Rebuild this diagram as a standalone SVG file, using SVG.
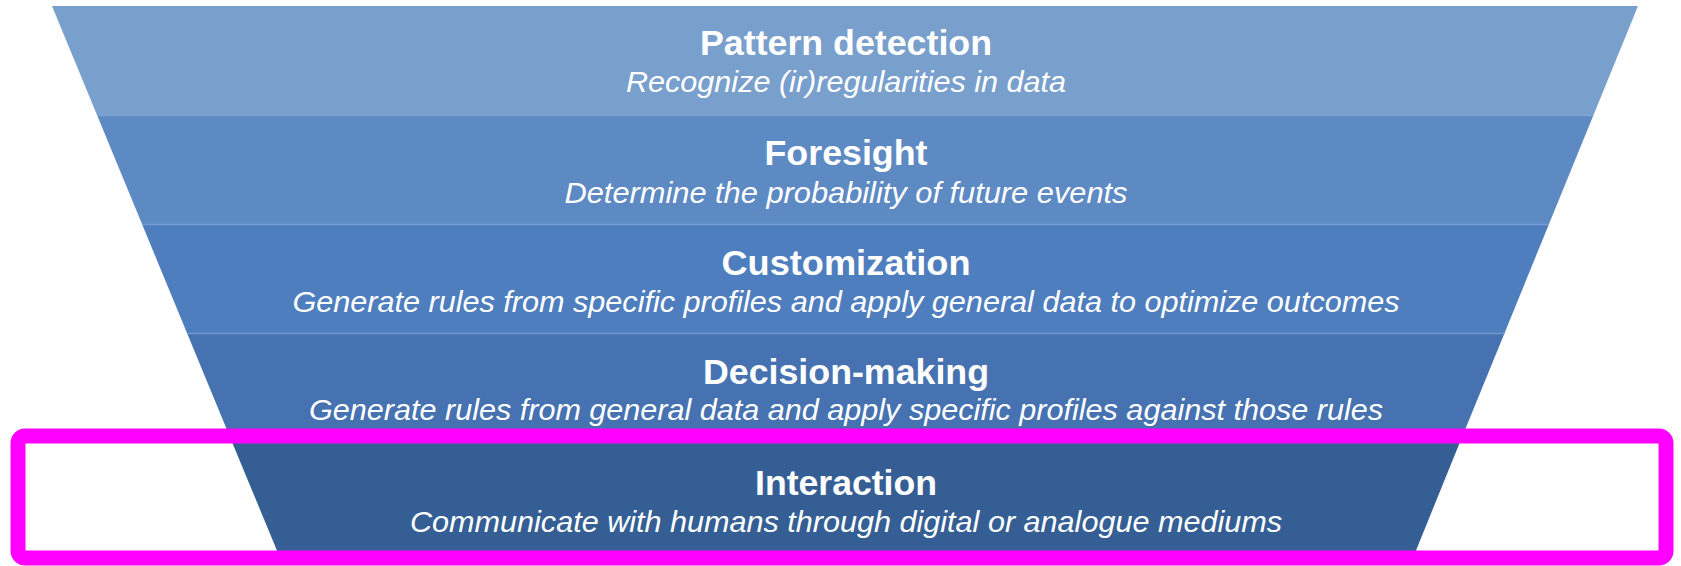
<svg xmlns="http://www.w3.org/2000/svg" width="1681" height="566" viewBox="0 0 1681 566">
  <style>
    .title { font-family: "Liberation Sans", Arial, sans-serif; font-weight: bold; font-size: 35px; fill: #ffffff; text-anchor: middle; }
    .sub { font-family: "Liberation Sans", Arial, sans-serif; font-style: italic; font-size: 30px; fill: #ffffff; text-anchor: middle; }
    .sep { stroke: #8fb0d8; stroke-width: 1.5; stroke-opacity: 0.6; }
  </style>
  <rect x="0" y="0" width="1681" height="566" fill="#ffffff"/>
  <g id="band-pattern-detection">
    <polygon points="52,6 1638,6 1593.5,115 97,115" fill="#799fcd"/>
    <text class="title" x="846" y="55" textLength="292" lengthAdjust="spacingAndGlyphs">Pattern detection</text>
    <text class="sub" x="846" y="92" textLength="440" lengthAdjust="spacingAndGlyphs">Recognize (ir)regularities in data</text>
  </g>
  <g id="band-foresight">
    <polygon points="97,115 1593.5,115 1549,224 142,224" fill="#5e8ac4"/>
    <line class="sep" x1="97" y1="115.5" x2="1593.5" y2="115.5"/>
    <text class="title" x="846" y="165" textLength="163" lengthAdjust="spacingAndGlyphs">Foresight</text>
    <text class="sub" x="846" y="203" textLength="563" lengthAdjust="spacingAndGlyphs">Determine the probability of future events</text>
  </g>
  <g id="band-customization">
    <polygon points="142,224 1549,224 1504.6,333 187,333" fill="#4f7ebe"/>
    <line class="sep" x1="142" y1="224.5" x2="1549" y2="224.5"/>
    <text class="title" x="846" y="275" textLength="249" lengthAdjust="spacingAndGlyphs">Customization</text>
    <text class="sub" x="846" y="312" textLength="1107" lengthAdjust="spacingAndGlyphs">Generate rules from specific profiles and apply general data to optimize outcomes</text>
  </g>
  <g id="band-decision-making">
    <polygon points="187,333 1504.6,333 1460,442 232,442" fill="#4672b1"/>
    <line class="sep" x1="187" y1="333.5" x2="1504.6" y2="333.5"/>
    <text class="title" x="846" y="384" textLength="286" lengthAdjust="spacingAndGlyphs">Decision-making</text>
    <text class="sub" x="846" y="420" textLength="1074" lengthAdjust="spacingAndGlyphs">Generate rules from general data and apply specific profiles against those rules</text>
  </g>
  <g id="band-interaction">
    <polygon points="232,442 1460,442 1415,553 278,553" fill="#355f94"/>
    <text class="title" x="846" y="495" textLength="182" lengthAdjust="spacingAndGlyphs">Interaction</text>
    <text class="sub" x="846" y="532" textLength="872" lengthAdjust="spacingAndGlyphs">Communicate with humans through digital or analogue mediums</text>
  </g>
  <g id="highlight">
    <rect x="18" y="436" width="1648" height="122" rx="7" ry="7" fill="none" stroke="#ff00ff" stroke-width="15"/>
  </g>
</svg>
